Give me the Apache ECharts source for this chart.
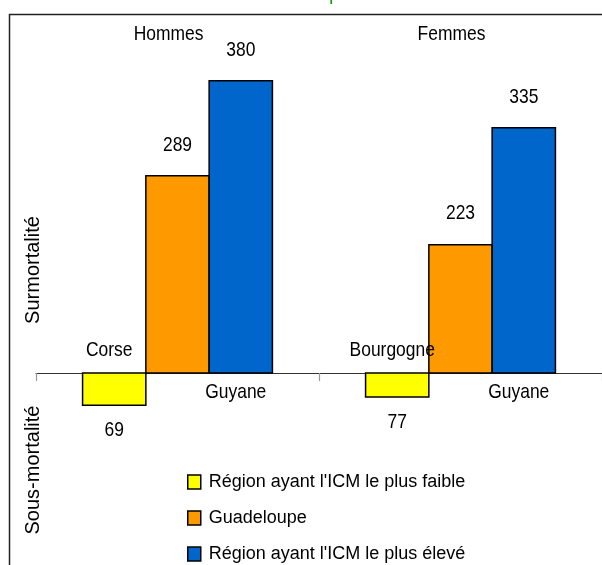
<!DOCTYPE html>
<html>
<head>
<meta charset="utf-8">
<script src="https://cdn.jsdelivr.net/npm/echarts@6/dist/echarts.min.js"></script>
<style>
  html, body { margin: 0; padding: 0; background: #fff; }
  #chart { width: 602px; height: 565px; }
</style>
</head>
<body>
<div id="chart"></div>
<script>
// Indice comparatif de mortalité (ICM, base 100 = France) by sex
const categories = ['Hommes', 'Femmes'];
const seriesNames = ["Région ayant l'ICM le plus faible", 'Guadeloupe', "Région ayant l'ICM le plus élevé"];
const lowRegions = ['Corse', 'Bourgogne'];
const lowValues = [69, 77];
const guadeloupeValues = [289, 223];
const highRegions = ['Guyane', 'Guyane'];
const highValues = [380, 335];

const BASE = 100;            // bars grow from the national reference level
const BAR_RATIO = 0.2236;    // bar width as a share of one category
const FAMILY = "'Liberation Sans', Arial, sans-serif";
const LABEL_FONT = '21px ' + FAMILY;
const SQUEEZE = 0.83;        // condensed look of the horizontal labels
const COLORS = ['#FFFF00', '#FF9900', '#0066CC'];

function label(text, x, y) {
  return {
    type: 'text', x: x, y: y, scaleX: SQUEEZE, z2: 10,
    style: { text: text, font: LABEL_FONT, fill: '#000', align: 'center', verticalAlign: 'middle' }
  };
}

function barRenderer(slot, regionNames, nameDy) {
  return function (params, api) {
    const cat = api.value(0);
    const value = api.value(1);
    const base = api.coord([cat, BASE]);
    const end = api.coord([cat, value]);
    const bw = api.size([1, 0])[0] * BAR_RATIO;
    const x0 = base[0] + (slot - 1.5) * bw;
    const cx = x0 + bw / 2;
    const up = value >= BASE;
    const children = [
      {
        type: 'rect',
        shape: { x: x0, y: Math.min(base[1], end[1]), width: bw, height: Math.abs(end[1] - base[1]) },
        style: { fill: COLORS[slot], stroke: '#000', lineWidth: 1.5 }
      },
      label(String(value), cx, up ? end[1] - 31 : end[1] + 25)
    ];
    if (regionNames) {
      children.push(label(regionNames[params.dataIndex], cx - 5, base[1] + nameDy));
    }
    if (slot === 1) {
      // sex heading above each group
      children.push(label(categories[cat], base[0] - 9, 34));
    }
    return { type: 'group', children: children };
  };
}

const seriesData = [lowValues, guadeloupeValues, highValues];
const regionLabels = [lowRegions, null, highRegions];
const regionOffsets = [-23, 0, 19];

const chart = echarts.init(document.getElementById('chart'), null, { renderer: 'canvas' });
chart.setOption({
  animation: false,
  backgroundColor: '#fff',
  grid: { left: 36, width: 568, top: 60, bottom: 192 },
  xAxis: {
    type: 'category', data: categories, position: 'bottom',
    axisLine: { lineStyle: { color: '#333', width: 1 } },
    axisTick: { show: true, length: 8, lineStyle: { color: '#999', width: 1.2 } },
    axisLabel: { show: false }
  },
  yAxis: { type: 'value', min: 100, max: 400, show: false, splitLine: { show: false } },
  legend: {
    orient: 'vertical', left: 187, top: 473, height: 140, padding: 0,
    icon: 'rect', itemWidth: 13, itemHeight: 14, itemGap: 18,
    itemStyle: { borderColor: '#000', borderWidth: 1.5 },
    textStyle: { fontSize: 18, fontFamily: FAMILY, color: '#000', padding: [0, 0, 0, 3] },
    data: seriesNames
  },
  series: seriesNames.map(function (name, slot) {
    return {
      type: 'custom', name: name,
      color: COLORS[slot],
      itemStyle: { color: COLORS[slot] },
      clip: false,
      renderItem: barRenderer(slot, regionLabels[slot], regionOffsets[slot]),
      encode: { x: 0, y: 1 },
      data: seriesData[slot].map(function (v, i) { return [i, v]; })
    };
  }),
  graphic: [
    { type: 'rect', z: -10, shape: { x: 9.5, y: 14.5, width: 700, height: 700 }, style: { fill: 'none', stroke: '#222', lineWidth: 1.5 } },
    { type: 'text', x: 329, y: 4, style: { text: 'p', font: '20px ' + FAMILY, fill: '#1a9a1a', verticalAlign: 'bottom' } },
    { type: 'text', x: 33, y: 270, rotation: Math.PI / 2, style: { text: 'Surmortalité', font: '20px ' + FAMILY, fill: '#000', align: 'center', verticalAlign: 'middle' } },
    { type: 'text', x: 33, y: 470, rotation: Math.PI / 2, style: { text: 'Sous-mortalité', font: '20px ' + FAMILY, fill: '#000', align: 'center', verticalAlign: 'middle' } }
  ]
});
</script>
</body>
</html>
